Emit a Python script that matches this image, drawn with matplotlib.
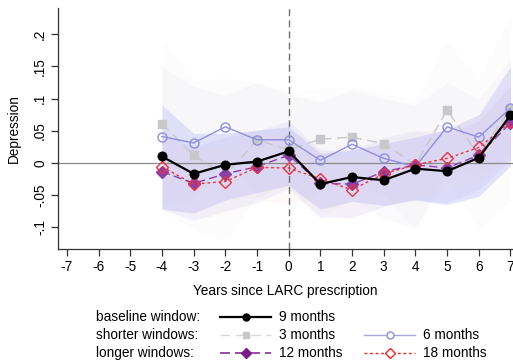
import matplotlib
matplotlib.use("Agg")
import matplotlib.pyplot as plt

plt.rcParams['font.family'] = ['Liberation Sans', 'DejaVu Sans']

years = [-4, -3, -2, -1, 0, 1, 2, 3, 4, 5, 6, 7]

# point estimates
m3 = [0.061, 0.012, -0.020, 0.036, 0.020, 0.037, 0.040, 0.030, -0.003, 0.082, 0.012, 0.084]
m6 = [0.041, 0.031, 0.056, 0.036, 0.036, 0.004, 0.029, 0.007, -0.006, 0.056, 0.040, 0.085]
m9 = [0.010, -0.017, -0.003, 0.002, 0.018, -0.033, -0.022, -0.027, -0.009, -0.013, 0.008, 0.074]
m12 = [-0.0135, -0.032, -0.017, -0.006, 0.012, -0.032, -0.033, -0.014, -0.003, -0.008, 0.012, 0.062]
m18 = [-0.006, -0.033, -0.029, -0.007, -0.008, -0.025, -0.042, -0.017, -0.003, 0.007, 0.024, 0.063]

# confidence bands
m3_hi = [0.194, 0.129, 0.132, 0.124, 0.110, 0.116, 0.118, 0.108, 0.098, 0.191, 0.129, 0.227]
m3_lo = [-0.073, -0.104, -0.122, -0.052, -0.070, -0.042, -0.038, -0.048, -0.104, -0.027, -0.105, -0.059]
m6_hi = [0.150, 0.119, 0.105, 0.126, 0.106, 0.095, 0.113, 0.100, 0.090, 0.125, 0.100, 0.160]
m6_lo = [-0.068, -0.057, 0.007, -0.054, -0.034, -0.087, -0.055, -0.086, -0.102, -0.013, -0.020, 0.010]
m9_hi = [0.090, 0.046, 0.046, 0.051, 0.056, 0.015, 0.020, 0.030, 0.040, 0.052, 0.075, 0.150]
m9_lo = [-0.072, -0.078, -0.058, -0.046, -0.035, -0.072, -0.060, -0.066, -0.058, -0.065, -0.052, -0.005]
m12_hi = [0.045, 0.025, 0.040, 0.050, 0.065, 0.020, 0.020, 0.040, 0.050, 0.045, 0.065, 0.120]
m12_lo = [-0.072, -0.090, -0.075, -0.062, -0.040, -0.085, -0.085, -0.068, -0.056, -0.062, -0.042, 0.005]
m18_hi = [0.045, 0.020, 0.022, 0.045, 0.045, 0.025, 0.008, 0.033, 0.047, 0.057, 0.075, 0.115]
m18_lo = [-0.057, -0.086, -0.080, -0.059, -0.061, -0.075, -0.092, -0.067, -0.053, -0.043, -0.027, 0.011]

xticks = list(range(-7, 8))
yticks = [-0.1, -0.05, 0, 0.05, 0.1, 0.15, 0.2]
ytick_labels = ["-.1", "-.05", "0", ".05", ".1", ".15", ".2"]

c3, c6, c9, c12, c18 = "#c8c8c8", "#8f8fdc", "black", "#7b2a8e", "#f0303a"
fs = 9.8

fig = plt.figure(figsize=(5.13, 3.64), dpi=100)
ax = fig.add_axes([0.1137, 0.316, 0.8863, 0.662])

# bands
ax.fill_between(years, m3_lo, m3_hi, color="#ececec", alpha=0.12, lw=0)
ax.fill_between(years, m6_lo, m6_hi, color="#dcdcec", alpha=0.14, lw=0)
ax.fill_between(years, m9_lo, m9_hi, color="#a8a8f8", alpha=0.30, lw=0)
ax.fill_between(years, m12_lo, m12_hi, color="#b0a0e8", alpha=0.12, lw=0)
ax.fill_between(years, m18_lo, m18_hi, color="#ffd0c0", alpha=0.06, lw=0)

ax.axhline(0, color="#8a8a8a", lw=0.9, zorder=1)
ax.axvline(0, color="#707070", lw=1.0, ls=(0, (5, 3)), zorder=1)

ax.plot(years, m3, color=c3, lw=1.0, ls=(0, (7, 4)), marker="s", ms=5.5, mec=c3, mfc=c3, zorder=3)
ax.plot(years, m6, color=c6, lw=1.0, marker="o", ms=6.5, mfc="none", mec=c6, zorder=3)
ax.plot(years, m12, color="#9040a8", lw=1.0, ls=(0, (6, 3)), marker="D", ms=6, mfc="#8a3fa6", mec="#8a3fa6", zorder=4)
ax.plot(years, m18, color=c18, lw=1.0, ls=(0, (2, 2)), marker="D", ms=6, mfc="none", mec=c18, zorder=4)
ax.plot(years, m9, color=c9, lw=1.6, marker="o", ms=6.2, zorder=5)

ax.set_xlim(-7.27, 7.08)
ax.set_ylim(-0.134, 0.241)
ax.set_xticks(xticks)
ax.set_xticklabels([str(v) for v in xticks])
ax.set_yticks(yticks)
ax.set_yticklabels(ytick_labels, rotation=90, va="center")
ax.tick_params(labelsize=fs, color="#333333", length=5, width=0.9, pad=3)
for s in ["top", "right"]:
    ax.spines[s].set_visible(False)
for s in ["left", "bottom"]:
    ax.spines[s].set_color("#333333")
    ax.spines[s].set_linewidth(0.9)
ax.set_xlabel("Years since LARC prescription", fontsize=fs, labelpad=7)
ax.set_ylabel("Depression", fontsize=fs, labelpad=9)

# legend drawn in pixel space
lg = fig.add_axes([0, 0, 1, 1], facecolor="none")
lg.set_xlim(0, 513)
lg.set_ylim(364, 0)
lg.axis("off")

rows = [316.7, 335.0, 353.3]
lg.text(96, rows[0], "baseline window:", fontsize=fs, va="center")
lg.text(96, rows[1], "shorter windows:", fontsize=fs, va="center")
lg.text(96, rows[2], "longer windows:", fontsize=fs, va="center")


def sample(x0, y, line, mark):
    lg.plot([x0, x0 + 51], [y, y], **line)
    lg.plot([x0 + 25.5], [y], ls="none", **mark)


sample(220, rows[0], dict(color="black", lw=1.6), dict(marker="o", ms=5, mfc="black", mec="black"))
lg.text(279, rows[0], "9 months", fontsize=fs, va="center")
sample(220, rows[1], dict(color="#d8d8d8", lw=1.0, ls=(0, (7, 4))), dict(marker="s", ms=5, mfc=c3, mec=c3))
lg.text(279, rows[1], "3 months", fontsize=fs, va="center")
sample(364, rows[1], dict(color="#a8a8e0", lw=1.0), dict(marker="o", ms=5, mfc="white", mec=c6))
lg.text(423, rows[1], "6 months", fontsize=fs, va="center")
sample(220, rows[2], dict(color="#8a2a9a", lw=1.2, ls=(0, (6, 3))), dict(marker="D", ms=5.5, mfc="#7a1a8a", mec="#7a1a8a"))
lg.text(279, rows[2], "12 months", fontsize=fs, va="center")
sample(364, rows[2], dict(color="#ff2020", lw=1.0, ls=(0, (2, 2))), dict(marker="D", ms=5.5, mfc="white", mec="#ff2020"))
lg.text(423, rows[2], "18 months", fontsize=fs, va="center")

fig.savefig("out.png", dpi=100)
